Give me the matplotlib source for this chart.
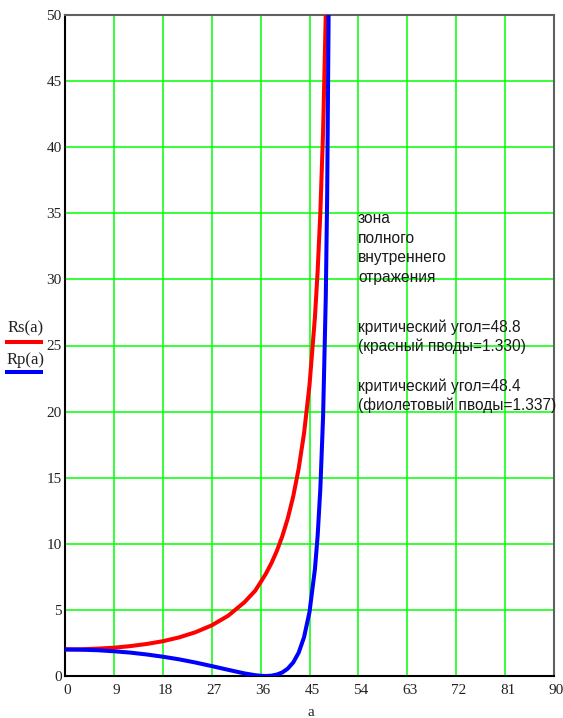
import matplotlib
matplotlib.use("Agg")
import matplotlib.pyplot as plt
from matplotlib.lines import Line2D
from matplotlib.transforms import ScaledTranslation

# Angle of incidence a (degrees) and reflectances (%)
angles = [0, 3, 6, 9, 12, 15, 18, 21, 24, 27, 30, 33, 35, 36, 37, 38, 39, 40,
          41, 42, 43, 44, 45, 46, 46.5, 47, 47.5, 48, 48.25, 48.5, 48.6]
rs_vals = [2.01, 2.02, 2.07, 2.14, 2.26, 2.42, 2.63, 2.92, 3.31, 3.83, 4.55,
           5.57, 6.45, 7.09, 7.76, 8.54, 9.47, 10.58, 11.92, 13.58, 15.67,
           18.37, 22.00, 27.14, 30.63, 35.11, 41.18, 50.16, 56.86, 66.99, 75.0]
rp_vals = [2.01, 1.99, 1.95, 1.87, 1.77, 1.63, 1.46, 1.26, 1.02, 0.75, 0.47,
           0.20, 0.06, 0.015, 0.0, 0.025, 0.11, 0.27, 0.56, 1.02, 1.76, 2.94,
           4.84, 8.09, 10.61, 14.21, 19.62, 28.73, 36.30, 48.98, 57.40]

x_ticks = [0, 9, 18, 27, 36, 45, 54, 63, 72, 81, 90]
y_ticks = [0, 5, 10, 15, 20, 25, 30, 35, 40, 45, 50]

note_lines = ["зона", "полного", "внутреннего", "отражения",
              "критический угол=48.8", "(красный пводы=1.330)",
              "критический угол=48.4", "(фиолетовый пводы=1.337)"]
note_baselines_px = [223, 243, 262, 282, 332, 351, 391, 410]

W, H = 563, 718
fig = plt.figure(figsize=(W / 100, H / 100), dpi=100)
L, R, T, B = 65, 554, 15, 676
ax = fig.add_axes([L / W, 1 - B / H, (R - L) / W, (B - T) / H])

ax.plot(angles, rs_vals, color="#ff0000", lw=2.9, solid_joinstyle="round", zorder=3)
ax.plot(angles, rp_vals, color="#0000ff", lw=2.9, solid_joinstyle="round", zorder=4)

ax.set_xlim(0, 90)
ax.set_ylim(0, 50)
ax.set_xticks(x_ticks)
ax.set_yticks(y_ticks)
ax.grid(True, color="#00ff00", lw=1.1, zorder=1)
ax.set_axisbelow(True)

serif = ["Liberation Serif", "DejaVu Serif"]
ax.tick_params(length=0, labelsize=11, labelcolor="#222222")
ax.tick_params(axis="x", pad=6)
ax.tick_params(axis="y", pad=2.5)
for lab in ax.get_xticklabels() + ax.get_yticklabels():
    lab.set_fontfamily(serif)
for lab in ax.get_xticklabels():
    lab.set_transform(lab.get_transform() + ScaledTranslation(2.5 / 100, 0, fig.dpi_scale_trans))

for s in ["left", "bottom"]:
    ax.spines[s].set_color("#000000")
    ax.spines[s].set_linewidth(1.5)
for s in ["top", "right"]:
    ax.spines[s].set_color("#606060")
    ax.spines[s].set_linewidth(1.5)

# axis label
fig.text(311 / W, 1 - 713 / H, "a", fontsize=11, family=serif, color="#222222",
         ha="center", va="center")

# legend at left
fig.text(8 / W, 1 - 328 / H, "Rs(a)", fontsize=12, family=serif, color="#222222",
         ha="left", va="center")
fig.add_artist(Line2D([7 / W, 41 / W], [1 - 342 / H, 1 - 342 / H], color="#ff0000",
                      lw=2.9, transform=fig.transFigure))
fig.text(7 / W, 1 - 360 / H, "Rp(a)", fontsize=12, family=serif, color="#222222",
         ha="left", va="center")
fig.add_artist(Line2D([7 / W, 41 / W], [1 - 372 / H, 1 - 372 / H], color="#0000ff",
                      lw=2.9, transform=fig.transFigure))

# annotation
sans = ["Liberation Sans", "DejaVu Sans"]
for txt, yb in zip(note_lines, note_baselines_px):
    fig.text(358 / W, 1 - yb / H, txt, fontsize=11.2, family=sans, color="#1a1a1a",
             ha="left", va="baseline")

fig.savefig("out.png", dpi=100)
